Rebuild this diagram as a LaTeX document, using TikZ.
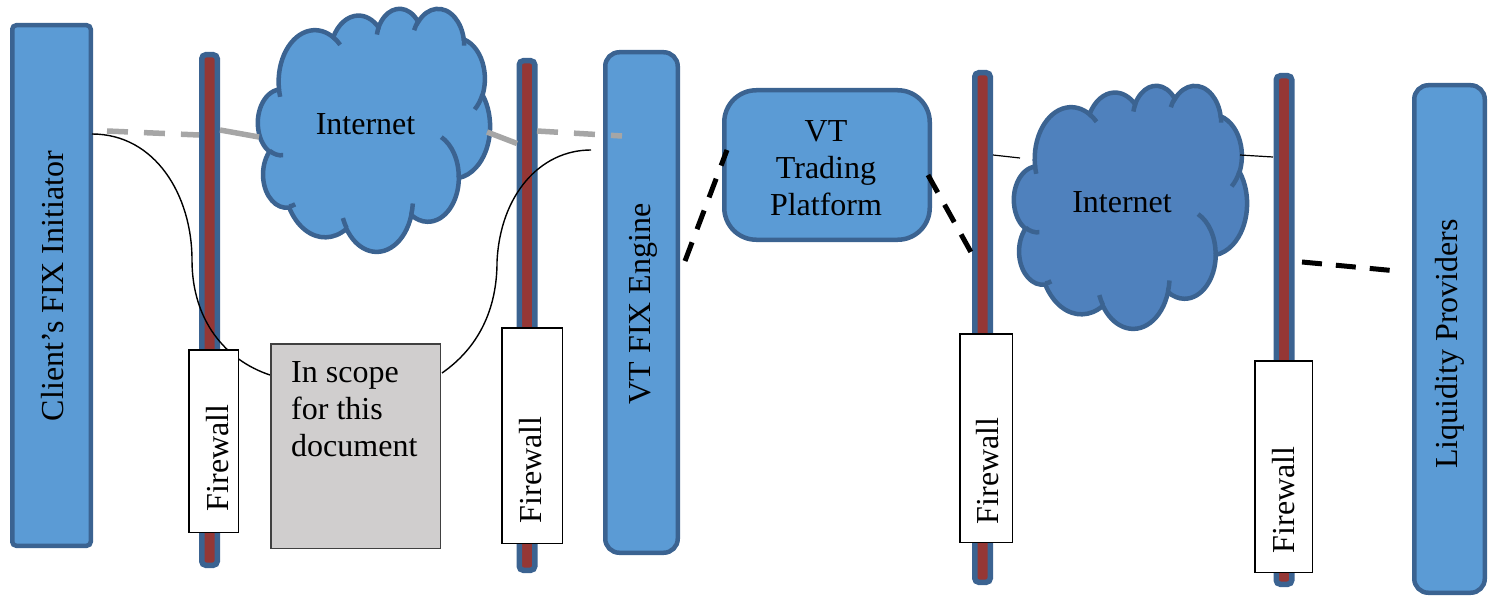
\documentclass[tikz,border=0pt]{standalone}
\usepackage{fontspec}
\setmainfont{Liberation Serif}
\definecolor{boxc}{HTML}{5B9BD5}
\definecolor{cloudtwo}{HTML}{4F81BD}
\definecolor{bordc}{HTML}{3B6391}
\definecolor{barred}{HTML}{953735}
\definecolor{grayc}{HTML}{A6A6A6}
\definecolor{scopec}{HTML}{D0CECE}
\newcommand\lbfont{\fontsize{32pt}{37pt}\selectfont}
% Office-style elliptical arc: visual angles -> parametric angles
\newcommand\cldarc[5]{%
  \pgfmathsetmacro\cldtmpS{atan2((#2)*sin(#4),(#3)*cos(#4))}%
  \pgfmathsetmacro\cldtmpE{atan2((#2)*sin((#4)+(#5)),(#3)*cos((#4)+(#5)))}%
  \pgfmathsetmacro\cldtmpD{mod(\cldtmpE-\cldtmpS+720,360)}%
  \expandafter\xdef\csname cld#1\endcsname{ arc[start angle=\cldtmpS, delta angle=\cldtmpD, x radius=#2pt, y radius=#3pt]}%
}
\newcommand\cloudpath{(39.00,143.70) \cldA \cldB \cldC \cldD \cldE \cldF \cldG \cldH \cldI \cldJ \cldK -- cycle}
\newcommand\cloudinner{(46.93,261.77) \clda (69.28,348.99) \cldb (164.78,390.90) \cldc (288.27,347.51) \cldd (341.29,229.54) \clde (417.98,153.54) \cldf (383.24,54.26) \cldg (290.78,39.52) \cldh (221.41,47.20) \cldi (140.00,51.92) \cldj (41.27,157.89) \cldk}
\begin{document}
\begin{tikzpicture}[x=1pt,y=1pt,yscale=-1,
  bluebox/.style={draw=bordc, fill=boxc, line width=4.5pt, inner sep=0pt},
  fwbar/.style={draw=bordc, fill=barred, line width=5.5pt, rounded corners=4pt, inner sep=0pt, minimum width=15.5pt},
  fwbox/.style={draw=black, fill=white, line width=1.5pt, inner sep=0pt},
  lbl/.style={font=\lbfont, inner sep=0pt},
  vlbl/.style={lbl, rotate=90, anchor=center},
  grayln/.style={draw=grayc, line width=5.5pt},
  graydash/.style={grayln, dash pattern=on 21pt off 16pt},
  blkdash/.style={draw=black, line width=5pt, dash pattern=on 20pt off 14pt},
  thinln/.style={draw=black, line width=1.2pt},
  curveln/.style={draw=black, line width=1.4pt},
  cloudline/.style={draw=bordc, line width=4.5pt}]
\useasboundingbox (0,0) rectangle (1490,596);
\cldarc{A}{67.53}{91.90}{-190.4875}{123.7805}
\cldarc{B}{53.33}{72.67}{-144.1024}{89.9452}
\cldarc{C}{43.65}{59.45}{-145.8079}{99.7230}
\cldarc{D}{48.57}{65.95}{-130.9861}{117.2417}
\cldarc{E}{53.33}{72.73}{-78.7089}{109.0269}
\cldarc{F}{67.75}{92.20}{-46.2673}{130.2690}
\cldarc{G}{57.85}{78.67}{0.6250}{114.0333}
\cldarc{H}{67.52}{92.15}{22.4516}{115.1726}
\cldarc{I}{77.20}{105.43}{66.2426}{75.7110}
\cldarc{J}{43.60}{59.18}{-274.9421}{146.7356}
\cldarc{K}{43.45}{59.45}{-246.8285}{152.5189}
\cldarc{a}{43.45}{59.45}{86.7420}{26.4295}
\cldarc{b}{43.60}{59.18}{73.6105}{11.4475}
\cldarc{c}{67.52}{92.15}{137.6242}{14.0811}
\cldarc{d}{67.52}{92.15}{6.4533}{15.9984}
\cldarc{e}{57.85}{78.67}{-70.2924}{70.9174}
\cldarc{f}{53.33}{72.73}{30.3180}{27.7515}
\cldarc{g}{48.57}{65.95}{-13.7443}{14.8644}
\cldarc{h}{48.57}{65.95}{-149.1815}{18.1985}
\cldarc{i}{43.65}{59.45}{-163.4943}{17.6864}
\cldarc{j}{67.53}{91.90}{-66.7070}{12.3194}
\cldarc{k}{67.53}{91.90}{157.6544}{11.8582}

% clouds
\begin{scope}[shift={(258,8)}, xscale=232/432, yscale=243/432]
  \fill[boxc] \cloudpath;
  \path[cloudline] \cloudpath;
  \path[cloudline] \cloudinner;
\end{scope}
\begin{scope}[shift={(1014,85)}, xscale=233/432, yscale=243/432]
  \fill[cloudtwo] \cloudpath;
  \path[cloudline] \cloudpath;
  \path[cloudline] \cloudinner;
\end{scope}

% main boxes
\node[bluebox, rounded corners=4pt, minimum width=78.5pt, minimum height=520.5pt] (client) at (51.5,285.5) {};
\node[bluebox, rounded corners=14pt, minimum width=72.5pt, minimum height=500.5pt] (engine) at (641.5,302.5) {};
\node[bluebox, rounded corners=32pt, minimum width=205.5pt, minimum height=149.5pt] (platform) at (827,165) {};
\node[bluebox, rounded corners=14pt, minimum width=70.5pt, minimum height=507.5pt] (lp) at (1449.5,339) {};

% firewall bars
\node[fwbar, minimum height=510.5pt] (bar1) at (209.5,310) {};
\node[fwbar, minimum height=509.5pt] (bar2) at (527,315.5) {};
\node[fwbar, minimum height=509.5pt] (bar3) at (982.5,327.5) {};
\node[fwbar, minimum height=508.5pt] (bar4) at (1284,330) {};

% connector end points
\coordinate (g1a) at (107,131);  \coordinate (g1b) at (199,135);
\coordinate (g2a) at (220,130);  \coordinate (g2b) at (259,137);
\coordinate (g3a) at (487,132);  \coordinate (g3b) at (517,143.5);
\coordinate (g4a) at (537,131);  \coordinate (g4b) at (622,136);
\coordinate (k1a) at (685,261);  \coordinate (k1b) at (727,150);
\coordinate (k2a) at (928,175);  \coordinate (k2b) at (977,263);
\coordinate (k3a) at (1302,262); \coordinate (k3b) at (1397,271);
\coordinate (t1a) at (993,155);  \coordinate (t1b) at (1020,158);
\coordinate (t2a) at (1240,155); \coordinate (t2b) at (1273,157);
\coordinate (c1a) at (92,134);   \coordinate (c1m) at (192,260); \coordinate (c1b) at (270,375);
\coordinate (c2a) at (442,373);  \coordinate (c2m) at (497,262); \coordinate (c2b) at (591,150);

\path[graydash] (g1a) -- (g1b);
\path[grayln] (g2a) -- (g2b);
\path[grayln] (g3a) -- (g3b);
\path[graydash] (g4a) -- (g4b);
\path[blkdash] (k1a) -- (k1b);
\path[blkdash] (k2a) -- (k2b);
\path[blkdash] (k3a) -- (k3b);
\path[thinln] (t1a) -- (t1b);
\path[thinln] (t2a) -- (t2b);
\path[curveln] (c1a) .. controls (155,134) and (192,195) .. (c1m) .. controls (192,320) and (225,360) .. (c1b);
\path[curveln] (c2a) .. controls (478,348) and (497,310) .. (c2m) .. controls (500,195) and (540,150) .. (c2b);

% firewall boxes and scope box
\node[fwbox, minimum width=49.5pt, minimum height=182.5pt] (fw1) at (213.5,441) {};
\node[fwbox, minimum width=60.5pt, minimum height=215.5pt] (fw2) at (532,435.5) {};
\node[fwbox, minimum width=52.5pt, minimum height=208.5pt] (fw3) at (986,438) {};
\node[fwbox, minimum width=57.5pt, minimum height=211.5pt] (fw4) at (1283.5,466.5) {};
\node[draw=black!75, fill=scopec, line width=1.5pt, inner sep=0pt, minimum width=169.5pt, minimum height=204.5pt] (scope) at (355.5,446) {};

% labels
\node[vlbl] (clientlbl) at (53,286) {Client’s FIX Initiator};
\node[vlbl] (enginelbl) at (643,304) {VT FIX Engine};
\node[vlbl] (lplbl) at (1450,344) {Liquidity Providers};
\node[vlbl] (fw1lbl) at (217.5,458) {Firewall};
\node[vlbl] (fw2lbl) at (530.5,470) {Firewall};
\node[vlbl] (fw3lbl) at (987.5,471) {Firewall};
\node[vlbl] (fw4lbl) at (1283.5,500) {Firewall};
\node[lbl, align=center] (platformlbl) at (826,168) {VT\\Trading\\Platform};
\node[lbl, align=left, anchor=north west] (scopelbl) at (291,361.8) {In scope\\for this\\document};
\node[lbl, anchor=base] (inet1) at (365.5,135) {Internet};
\node[lbl, anchor=base] (inet2) at (1122,212) {Internet};
\end{tikzpicture}
\end{document}
